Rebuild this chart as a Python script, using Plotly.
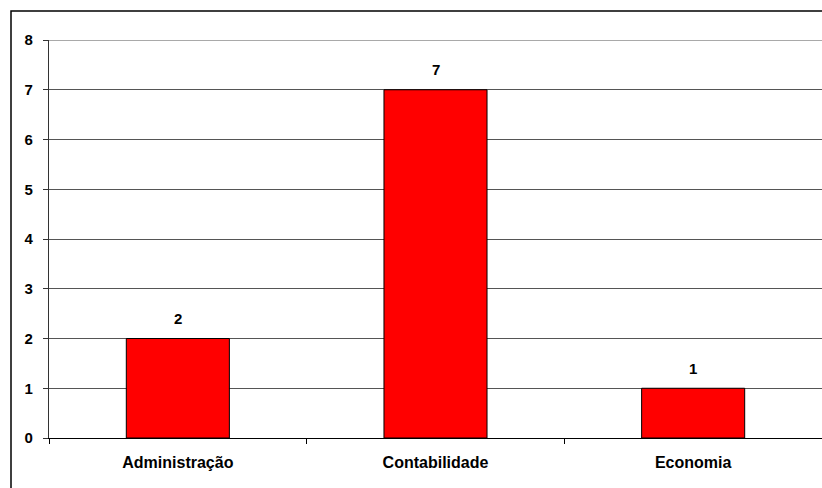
import plotly.graph_objects as go

categories = ["Administração", "Contabilidade", "Economia"]
values = [2, 7, 1]
y_ticks = [0, 1, 2, 3, 4, 5, 6, 7, 8]

font_family = "Liberation Sans, Arial, sans-serif"

fig = go.Figure()
fig.add_trace(go.Bar(
    x=categories, y=values,
    width=0.4,
    marker=dict(color="#FF0000", line=dict(color="#000000", width=1)),
    hoverinfo="skip",
))

for c, v in zip(categories, values):
    fig.add_annotation(x=c, y=v, text="<b>%d</b>" % v, showarrow=False,
                       yshift=20, font=dict(family=font_family, size=15, color="#000"))

W, H = 822, 488
ml, mt, mr, mb = 49, 40, 0, 50
pw, ph = W - ml - mr, H - mt - mb

def px_x(p):
    return (p - ml) / pw

def px_y(p):
    return (H - mb - p) / ph

fig.add_shape(type="rect", xref="paper", yref="paper",
              x0=px_x(11), x1=px_x(840), y0=px_y(11), y1=px_y(510),
              line=dict(color="#000", width=1.5), fillcolor="rgba(0,0,0,0)", layer="below")

# top gridline (at the highest tick), which plotly drops at the plot edge
fig.add_shape(type="line", xref="paper", yref="y",
              x0=0, x1=1, y0=max(y_ticks), y1=max(y_ticks),
              line=dict(color="#555", width=1), layer="below")

fig.update_layout(
    width=W, height=H,
    margin=dict(l=ml, t=mt, r=mr, b=mb),
    paper_bgcolor="white", plot_bgcolor="white",
    showlegend=False,
    bargap=0.6,
    font=dict(family=font_family, size=15, color="#000"),
    xaxis=dict(
        type="category", range=[-0.5, 2.5],
        showline=True, linecolor="#000", linewidth=1,
        ticks="outside", tickson="boundaries", ticklen=5, tickcolor="#000",
        showgrid=False, ticklabelstandoff=10,
        tickfont=dict(family=font_family, size=16, color="#000", weight="bold"),
    ),
    yaxis=dict(
        range=[0, max(y_ticks)], tickvals=y_ticks,
        showline=True, linecolor="#333", linewidth=1.2,
        ticks="outside", ticklen=5, tickcolor="#333",
        showgrid=True, gridcolor="#555", gridwidth=1,
        zeroline=False, ticklabelstandoff=7,
        tickfont=dict(family=font_family, size=15, color="#000", weight="bold"),
    ),
)

fig.write_html("out.html")
